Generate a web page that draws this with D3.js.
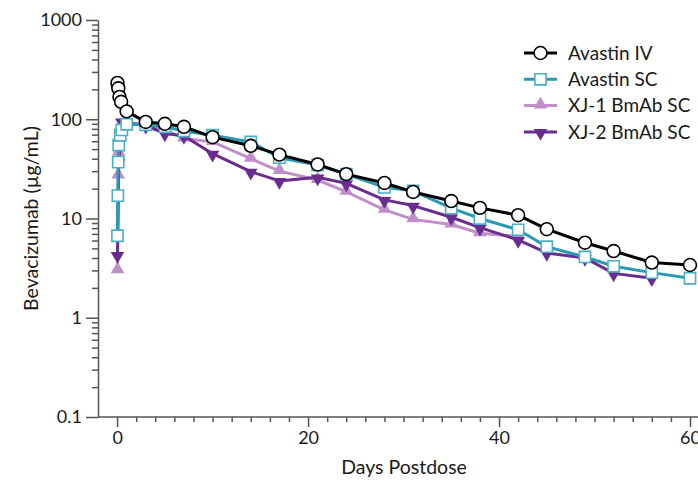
<!DOCTYPE html>
<html>
<head>
<meta charset="utf-8">
<script src="https://d3js.org/d3.v7.min.js"></script>
<style>
    body {margin: 0; background: #fff;}
    text {font-family: Lato, "Open Sans", sans-serif; fill: #1a1a1a;}
    .axis path, .axis line {stroke: #555; stroke-width: 1.5;}
    .axis text {font-size: 18px; fill: #1a1a1a;}
    .label {font-size: 19.5px;}
    .legend text {font-size: 19px;}
</style>
</head>
<body>
<svg id="chart" width="698" height="480"></svg>
<script>
    // (days postdose, ug/mL)
    let ivDays = [0.04, 0.125, 0.25, 0.42, 1, 3, 5, 7, 10, 14, 17, 21, 24, 28, 31, 35, 38, 42, 45, 49, 52, 56, 60];
    let ivConc = [232, 205, 168, 150, 120, 94, 90, 84, 66, 54, 44, 35, 28, 22.8, 18.5, 15, 12.8, 10.8, 7.8, 5.7, 4.7, 3.6, 3.4];

    let scDays = [0.04, 0.08, 0.12, 0.17, 0.33, 0.5, 1, 3, 5, 7, 10, 14, 17, 21, 24, 28, 31, 35, 38, 42, 45, 49, 52, 56, 60];
    let scConc = [6.7, 17, 37, 55, 69, 78, 89, 88, 84, 76, 69, 59, 41, 34.6, 28, 20.6, 19, 12.7, 10, 7.7, 5.2, 4.1, 3.3, 2.85, 2.5];

    let xj1Days = [0.04, 0.12, 0.17, 0.5, 1, 3, 5, 7, 10, 14, 17, 21, 24, 28, 31, 35, 38, 42];
    let xj1Conc = [3.0, 27, 46, 85, 92, 88, 78, 64, 59, 40, 30, 24.4, 18.6, 12.2, 9.8, 8.7, 7.1, 6.6];

    let xj2Days = [0.04, 0.17, 0.5, 1, 3, 5, 7, 10, 14, 17, 21, 24, 28, 31, 35, 38, 42, 45, 49, 52, 56];
    let xj2Conc = [4.3, 37, 95, 92, 86, 72, 68, 45, 29.6, 23.9, 26, 22.6, 15.4, 13.5, 10.3, 8.1, 6.1, 4.5, 4.0, 2.8, 2.5];

    let xTicks = [0, 20, 40, 60];
    let yTicks = [0.1, 1, 10, 100, 1000];

    let series = [
        {name: "Avastin IV", days: ivDays, conc: ivConc, color: "#000000", stroke: "#000000", shape: "circle", order: 3},
        {name: "Avastin SC", days: scDays, conc: scConc, color: "#2a9ab3", stroke: "#48b0c6", shape: "square", order: 2},
        {name: "XJ-1 BmAb SC", days: xj1Days, conc: xj1Conc, color: "#c08ec8", stroke: "#c08ec8", shape: "up", order: 0},
        {name: "XJ-2 BmAb SC", days: xj2Days, conc: xj2Conc, color: "#6b2c90", stroke: "#6b2c90", shape: "down", order: 1}
    ];

    let svg = d3.select("#chart");

    let x = d3.scaleLinear().domain([-2, 60]).range([98, 690]);
    let y = d3.scaleLog().domain([0.1, 1000]).range([417, 20]);

    // minor ticks
    let yMinor = [];
    [0.1, 1, 10, 100].forEach(function(dec) {
        for (let k = 2; k <= 9; k++) yMinor.push(dec * k);
    });
    let xMinor = d3.range(2, 61, 2).filter(d => d % 20 !== 0);

    svg.append("g")
        .attr("class", "axis")
        .attr("transform", "translate(" + x(-2) + ",0)")
        .call(d3.axisLeft(y).tickValues(yMinor).tickSize(6).tickFormat(""))
        .select(".domain").remove();

    svg.append("g")
        .attr("class", "axis")
        .attr("transform", "translate(" + x(-2) + ",0)")
        .call(d3.axisLeft(y).tickValues(yTicks).tickSize(12).tickSizeOuter(0).tickPadding(4)
            .tickFormat(d => String(d)));

    svg.append("g")
        .attr("class", "axis")
        .attr("transform", "translate(0," + y(0.1) + ")")
        .call(d3.axisBottom(x).tickValues(xMinor).tickSize(5).tickFormat(""))
        .select(".domain").remove();

    let xAxis = svg.append("g")
        .attr("class", "axis")
        .attr("transform", "translate(0," + y(0.1) + ")")
        .call(d3.axisBottom(x).tickValues(xTicks).tickSize(10).tickSizeOuter(0).tickPadding(4));
    xAxis.select(".domain").attr("d", "M" + x(-2) + ",0H698");

    svg.append("text")
        .attr("class", "label")
        .attr("x", 404)
        .attr("y", 474)
        .attr("text-anchor", "middle")
        .text("Days Postdose");

    svg.append("text")
        .attr("class", "label")
        .attr("transform", "translate(38," + (y(0.1) + y(1000)) / 2 + ") rotate(-90)")
        .attr("text-anchor", "middle")
        .text("Bevacizumab (µg/mL)");

    function symbolPath(shape) {
        if (shape === "circle") return d3.symbol(d3.symbolCircle, 130)();
        if (shape === "square") return d3.symbol(d3.symbolSquare, 125)();
        return d3.symbol(d3.symbolTriangle, 80)();
    }

    function drawMarker(g, s) {
        let p = g.append("path")
            .attr("d", symbolPath(s.shape));
        if (s.shape === "circle" || s.shape === "square") {
            p.attr("fill", "#fff").attr("stroke", s.stroke).attr("stroke-width", 1.6);
        } else {
            p.attr("fill", s.color).attr("stroke", "none");
        }
        if (s.shape === "up" || s.shape === "down") p.attr("transform", (s.shape === "down" ? "rotate(180) " : "") + "translate(0,-1)");
        return p;
    }

    let line = d3.line()
        .x(d => x(d[0]))
        .y(d => y(d[1]));

    let plotOrder = series.slice().sort((a, b) => a.order - b.order);

    plotOrder.forEach(function(s) {
        let pts = s.days.map((d, i) => [d, s.conc[i]]);
        let g = svg.append("g");
        g.append("path")
            .datum(pts)
            .attr("d", line)
            .attr("fill", "none")
            .attr("stroke", s.color)
            .attr("stroke-width", 3)
            .attr("stroke-linejoin", "round");
        pts.forEach(function(p) {
            let m = g.append("g").attr("transform", "translate(" + x(p[0]) + "," + y(p[1]) + ")");
            drawMarker(m, s);
        });
    });

    // legend
    let legend = svg.append("g").attr("class", "legend").attr("transform", "translate(524,53)");
    series.forEach(function(s, i) {
        let row = legend.append("g").attr("transform", "translate(0," + (i * 26.3) + ")");
        row.append("line")
            .attr("x1", 0).attr("x2", 33)
            .attr("stroke", s.color).attr("stroke-width", 3);
        let m = row.append("g").attr("transform", "translate(16.5,0)");
        drawMarker(m, s);
        row.append("text")
            .attr("x", 44)
            .attr("dy", "0.35em")
            .text(s.name);
    });
</script>
</body>
</html>
